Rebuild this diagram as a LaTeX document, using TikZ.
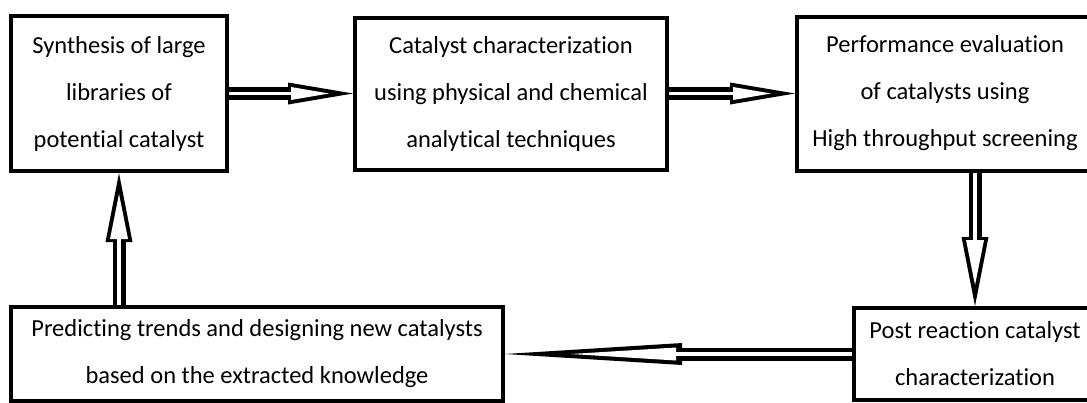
\documentclass[tikz,border=0pt]{standalone}
\usepackage{fontspec}
\setmainfont{Carlito}[Ligatures=NoCommon]
\usetikzlibrary{arrows.meta}
\tikzstyle{stage} = [rectangle, draw, line width=4pt, align=center, inner sep=0pt, font=\fontsize{24.5}{47}\selectfont]
% hollow arrow: outer tip length/width, inset, inner tip length/width
\tikzset{flow/.style n args={5}{line width=13pt, -{Triangle[length=#1, width=#2, line width=0pt]},
  postaction={draw=white, line width=3.5pt, shorten >=#3, -{Triangle[length=#4, width=#5, line width=0pt]}}}}
\begin{document}
\begin{tikzpicture}[x=1pt, y=-1pt]
   \useasboundingbox (0,0) rectangle (1087,402);
   \clip (0,0) rectangle (1087,402);
   % nodes
   \node[stage, minimum width=216pt, minimum height=155pt] (syn) at (119,93.5) {Synthesis of large\\libraries of\\potential catalyst};
   \node[stage, minimum width=312pt, minimum height=152pt] (char) at (511,93.5) {Catalyst characterization\\using physical and chemical\\analytical techniques};
   \node[stage, minimum width=296pt, minimum height=154pt] (perf) at (945,93.5) {Performance evaluation\\of catalysts using\\High throughput screening};
   \node[stage, minimum width=242pt, minimum height=92pt] (post) at (975,354) {Post reaction catalyst\\characterization};
   \node[stage, minimum width=492pt, minimum height=94pt] (pred) at (257,354) {Predicting trends and designing new catalysts\\based on the extracted knowledge};

   % edges
   \draw[flow={65pt}{22pt}{24pt}{38pt}{13pt}] (syn.east) -- (char.west);
   \draw[flow={65pt}{22pt}{24pt}{38pt}{13pt}] (char.east) -- (perf.west);
   \draw[flow={69pt}{27pt}{21pt}{45pt}{18pt}] (perf.south -| post.north) -- (post.north);
   \draw[flow={177pt}{22pt}{66pt}{105pt}{13pt}] (post.west) -- (pred.east);
   \draw[flow={69pt}{27pt}{21pt}{45pt}{18pt}] (pred.north -| syn.south) -- (syn.south);
\end{tikzpicture}
\end{document}
